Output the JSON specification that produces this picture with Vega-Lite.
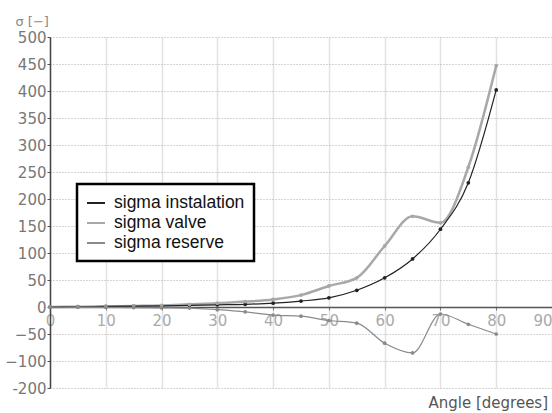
{
  "$schema": "https://vega.github.io/schema/vega-lite/v6.json",
  "autosize": "none",
  "width": 502,
  "height": 351,
  "padding": {"top": 37, "left": 50, "right": 0, "bottom": 25},
  "background": "white",
  "config": {
    "view": {"stroke": null},
    "font": "DejaVu Sans",
    "legend": {"strokeWidth": 2.5}
  },
  "data": {
    "values": [
      {"angle": 0, "series": "sigma instalation", "sigma": 0},
      {"angle": 5, "series": "sigma instalation", "sigma": 0.5},
      {"angle": 10, "series": "sigma instalation", "sigma": 1},
      {"angle": 15, "series": "sigma instalation", "sigma": 1.5},
      {"angle": 20, "series": "sigma instalation", "sigma": 2},
      {"angle": 25, "series": "sigma instalation", "sigma": 3},
      {"angle": 30, "series": "sigma instalation", "sigma": 4},
      {"angle": 35, "series": "sigma instalation", "sigma": 5},
      {"angle": 40, "series": "sigma instalation", "sigma": 7},
      {"angle": 45, "series": "sigma instalation", "sigma": 11},
      {"angle": 50, "series": "sigma instalation", "sigma": 17},
      {"angle": 55, "series": "sigma instalation", "sigma": 31},
      {"angle": 60, "series": "sigma instalation", "sigma": 54},
      {"angle": 65, "series": "sigma instalation", "sigma": 89},
      {"angle": 70, "series": "sigma instalation", "sigma": 144},
      {"angle": 75, "series": "sigma instalation", "sigma": 230},
      {"angle": 80, "series": "sigma instalation", "sigma": 402},
      {"angle": 0, "series": "sigma valve", "sigma": 0},
      {"angle": 5, "series": "sigma valve", "sigma": 0.5},
      {"angle": 10, "series": "sigma valve", "sigma": 1},
      {"angle": 15, "series": "sigma valve", "sigma": 2},
      {"angle": 20, "series": "sigma valve", "sigma": 3},
      {"angle": 25, "series": "sigma valve", "sigma": 5},
      {"angle": 30, "series": "sigma valve", "sigma": 7},
      {"angle": 35, "series": "sigma valve", "sigma": 10},
      {"angle": 40, "series": "sigma valve", "sigma": 14},
      {"angle": 45, "series": "sigma valve", "sigma": 22},
      {"angle": 50, "series": "sigma valve", "sigma": 39},
      {"angle": 55, "series": "sigma valve", "sigma": 54},
      {"angle": 60, "series": "sigma valve", "sigma": 113},
      {"angle": 65, "series": "sigma valve", "sigma": 168},
      {"angle": 70, "series": "sigma valve", "sigma": 156},
      {"angle": 75, "series": "sigma valve", "sigma": 259},
      {"angle": 80, "series": "sigma valve", "sigma": 447},
      {"angle": 0, "series": "sigma reserve", "sigma": 0},
      {"angle": 5, "series": "sigma reserve", "sigma": 0},
      {"angle": 10, "series": "sigma reserve", "sigma": -0.5},
      {"angle": 15, "series": "sigma reserve", "sigma": -1},
      {"angle": 20, "series": "sigma reserve", "sigma": -1.5},
      {"angle": 25, "series": "sigma reserve", "sigma": -2},
      {"angle": 30, "series": "sigma reserve", "sigma": -5},
      {"angle": 35, "series": "sigma reserve", "sigma": -9},
      {"angle": 40, "series": "sigma reserve", "sigma": -15},
      {"angle": 45, "series": "sigma reserve", "sigma": -17},
      {"angle": 50, "series": "sigma reserve", "sigma": -25},
      {"angle": 55, "series": "sigma reserve", "sigma": -30},
      {"angle": 60, "series": "sigma reserve", "sigma": -67},
      {"angle": 65, "series": "sigma reserve", "sigma": -85},
      {"angle": 70, "series": "sigma reserve", "sigma": -13},
      {"angle": 75, "series": "sigma reserve", "sigma": -32},
      {"angle": 80, "series": "sigma reserve", "sigma": -50}
    ]
  },
  "encoding": {
    "x": {
      "field": "angle",
      "type": "quantitative",
      "scale": {"domain": [0, 90], "nice": false, "zero": false},
      "axis": {
        "values": [0, 10, 20, 30, 40, 50, 60, 70, 80, 90],
        "offset": -81,
        "grid": true,
        "gridColor": "#e2e2e2",
        "gridWidth": 1.5,
        "domainColor": "#555",
        "domainWidth": 1.5,
        "tickColor": "#777",
        "tickSize": 3,
        "labelColor": "#aaa",
        "labelFontSize": 15,
        "labelPadding": 3,
        "labelFlush": false,
        "labelAlign": {"expr": "datum.value == 90 ? 'right' : 'center'"},
        "title": "Angle [degrees]",
        "titleFont": "DejaVu Sans",
        "titleFontSize": 15,
        "titleFontWeight": "normal",
        "titleColor": "#555",
        "titleAlign": "left",
        "titleAnchor": "start",
        "titleBaseline": "alphabetic",
        "titleX": 378,
        "titleY": 100
      }
    },
    "y": {
      "field": "sigma",
      "type": "quantitative",
      "scale": {"domain": [-150, 500], "nice": false, "zero": false},
      "axis": {
        "values": [-150, -100, -50, 0, 50, 100, 150, 200, 250, 300, 350, 400, 450, 500],
        "labelExpr": "datum.value == -150 ? '-200' : datum.label",
        "grid": true,
        "gridColor": "#aaa",
        "gridDash": [1, 2],
        "domainColor": "#444",
        "domainWidth": 1.5,
        "tickColor": "#555",
        "tickSize": 3,
        "labelColor": "#777",
        "labelFontSize": 15,
        "labelPadding": 1,
        "title": "σ [−]",
        "titleFont": "DejaVu Sans",
        "titleFontSize": 13,
        "titleFontWeight": "normal",
        "titleColor": "#888",
        "titleAngle": 0,
        "titleAlign": "left",
        "titleBaseline": "alphabetic",
        "titleX": -35,
        "titleY": -12
      }
    },
    "color": {
      "field": "series",
      "type": "nominal",
      "sort": ["sigma instalation", "sigma valve", "sigma reserve"],
      "scale": {
        "domain": ["sigma instalation", "sigma valve", "sigma reserve"],
        "range": ["#222222", "#a8a8a8", "#8a8a8a"]
      },
      "legend": {
        "title": null,
        "orient": "none",
        "legendX": 27,
        "legendY": 147,
        "strokeColor": "#000",
        "fillColor": "white",
        "padding": 9,
        "rowPadding": 1,
        "symbolType": "stroke",
        "symbolSize": 324,
        "symbolStrokeWidth": 2,
        "labelFont": "Liberation Sans",
        "labelFontSize": 17.5,
        "labelColor": "#111",
        "labelOffset": 8
      }
    }
  },
  "layer": [
    {
      "transform": [{"filter": "datum.series == 'sigma valve'"}],
      "mark": {"type": "line", "interpolate": "monotone", "strokeWidth": 2.5}
    },
    {
      "transform": [{"filter": "datum.series != 'sigma valve'"}],
      "mark": {"type": "line", "interpolate": "monotone", "strokeWidth": 1.2}
    },
    {
      "mark": {"type": "point", "filled": true, "size": 14, "opacity": 1}
    }
  ]
}
